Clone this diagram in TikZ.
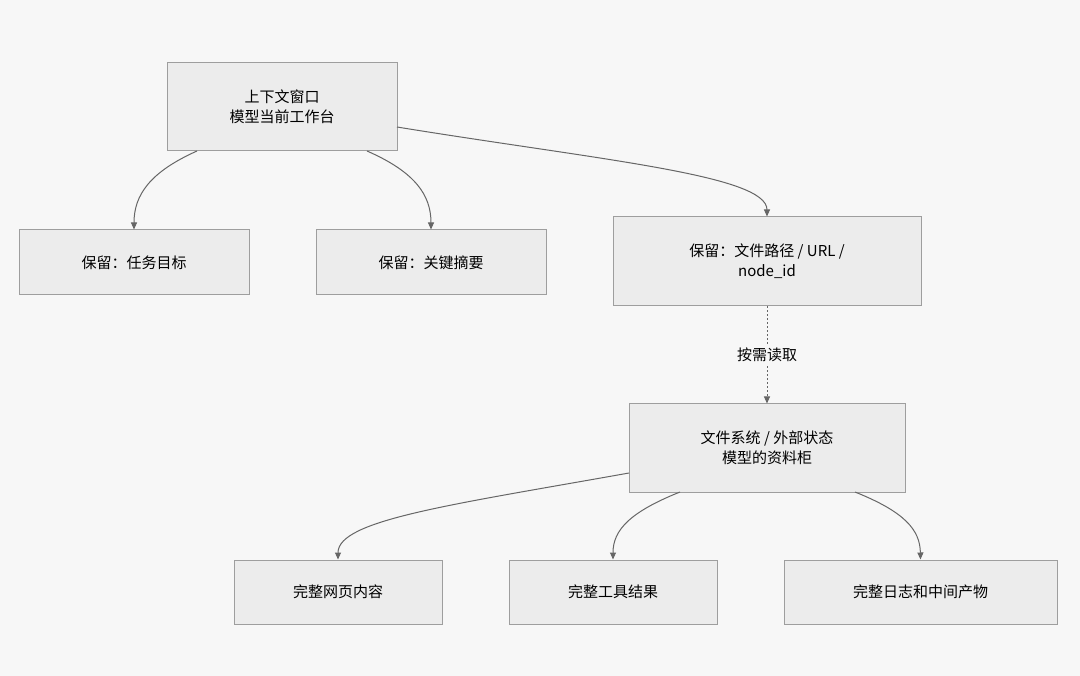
\documentclass[tikz,border=0pt]{standalone}
\usepackage{fontspec}
\setmainfont{Noto Sans CJK SC}
\usetikzlibrary{arrows.meta}
\definecolor{bg}{HTML}{F7F7F7}
\definecolor{boxf}{HTML}{ECECEC}
\definecolor{boxd}{HTML}{9E9E9E}
\definecolor{edge}{HTML}{666666}
\begin{document}
\begin{tikzpicture}[x=1pt,y=-1pt,
  box/.style={draw=boxd,fill=boxf,line width=1pt,align=center,font=\fontsize{15}{20}\selectfont,inner sep=0pt},
  conn/.style={draw=edge,line width=1pt,-{Triangle[length=7pt,width=6pt]}}]
\fill[bg] (0,0) rectangle (1080,676);
\useasboundingbox (0,0) rectangle (1080,676);
\node[box,minimum width=230,minimum height=88] (top) at (282,107) {上下文窗口\\模型当前工作台};
\node[box,minimum width=230,minimum height=65] (l1) at (134,262.5) {保留：任务目标};
\node[box,minimum width=230,minimum height=65] (l2) at (431,262.5) {保留：关键摘要};
\node[box,minimum width=308,minimum height=89] (l3) at (767,261.5) {保留：文件路径 / URL /\\node\_id};
\node[box,minimum width=276,minimum height=88] (mid) at (767,448) {文件系统 / 外部状态\\模型的资料柜};
\node[box,minimum width=208,minimum height=64] (b1) at (338,592) {完整网页内容};
\node[box,minimum width=208,minimum height=64] (b2) at (613,592) {完整工具结果};
\node[box,minimum width=273,minimum height=64] (b3) at (920.5,592) {完整日志和中间产物};
\coordinate (t1) at (197,151);
\coordinate (t2) at (367,151);
\coordinate (t3) at (397,127);
\coordinate (m1) at (629,473);
\coordinate (m2) at (680,492);
\coordinate (m3) at (855,492);
\draw[conn] (t1) .. controls (150,172) and (134,195) .. (l1.north);
\draw[conn] (t2) .. controls (415,172) and (431,195) .. (l2.north);
\draw[conn] (t3) .. controls (600,160) and (767,175) .. (l3.north);
\draw[conn,dash pattern=on 2pt off 2pt] (l3.south) -- node[fill=bg,font=\fontsize{15}{20}\selectfont,inner sep=3pt] (lab) {按需读取} (mid.north);
\draw[conn] (m1) .. controls (450,505) and (338,520) .. (b1.north);
\draw[conn] (m2) .. controls (630,512) and (613,530) .. (b2.north);
\draw[conn] (m3) .. controls (905,512) and (920,530) .. (b3.north);
\end{tikzpicture}
\end{document}
